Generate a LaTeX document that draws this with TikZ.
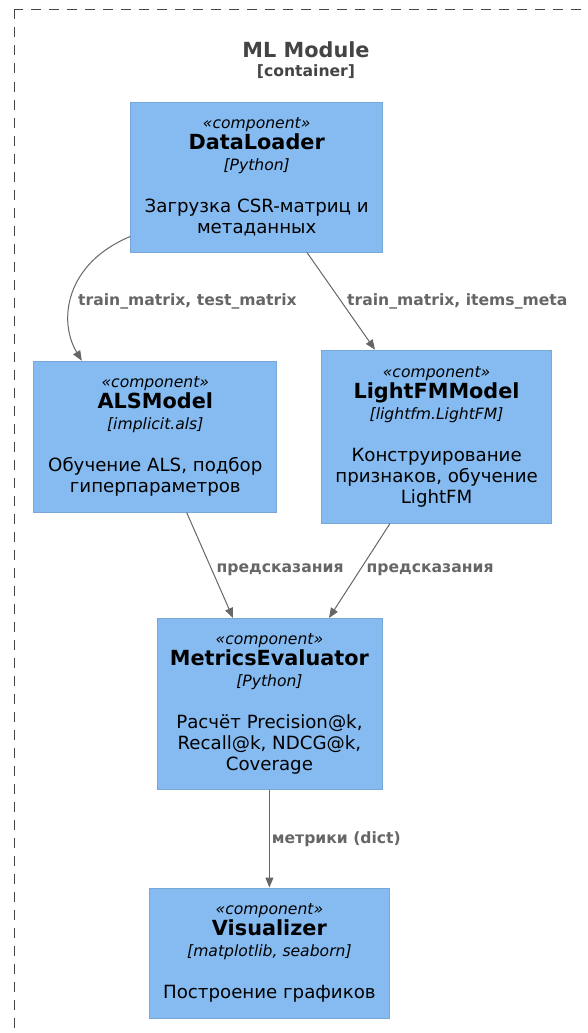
\documentclass[tikz,border=0pt]{standalone}
\usepackage{fontspec}
\setmainfont{DejaVu Sans}
\usetikzlibrary{positioning,arrows.meta}
\definecolor{compfill}{HTML}{85BBF0}
\definecolor{compline}{HTML}{78A8D8}
\definecolor{flowgrey}{HTML}{666666}
\definecolor{boundgrey}{HTML}{444444}
\newcommand{\compbody}[3]{{\itshape\fontsize{15.6}{21}\selectfont «component»}\\{\bfseries\fontsize{20.8}{21}\selectfont #1}\\{\itshape\fontsize{15.6}{21}\selectfont [#2]}\\[21pt]#3}
\tikzset{
    comp/.style={rectangle,fill=compfill,draw=compline,line width=0.8pt,align=center,text=black,font=\fontsize{18.2}{21}\selectfont},
    flow/.style={draw=flowgrey,line width=1pt,-{Triangle[length=10pt,width=8pt]}},
    lbl/.style={text=flowgrey,font=\bfseries\fontsize{15.6}{19}\selectfont,inner sep=0pt,anchor=west},
    boundary/.style={draw=boundgrey,line width=1pt,dash pattern=on 10pt off 8pt},
}

\begin{document}
\begin{tikzpicture}[x=1pt,y=-1pt]
\useasboundingbox (0,0) rectangle (587,1033);
\clip (0,0) rectangle (587,1033);
\draw[boundary] (14,9.5) rectangle (640,1080);
\node[text=boundgrey,font=\bfseries\fontsize{20.8}{24}\selectfont] (mltitle) at (306,50) {ML Module};
\node[text=boundgrey,font=\bfseries\fontsize{15.6}{19}\selectfont] (mlsub) at (306,72) {[container]};
\node[comp,minimum width=252pt,minimum height=150pt,anchor=north](dataloader) at (256.7,101.7) {\compbody{DataLoader}{Python}{Загрузка CSR-матриц и\\метаданных}};
\node[comp,minimum width=243pt,minimum height=151pt,anchor=north](als) at (155.3,360.8) {\compbody{ALSModel}{implicit.als}{Обучение ALS, подбор\\гиперпараметров}};
\node[comp,minimum width=230pt,minimum height=173pt,anchor=north](lightfm) at (436.6,349.7) {\compbody{LightFMModel}{lightfm.LightFM}{Конструирование\\признаков, обучение\\LightFM}};
\node[comp,minimum width=225pt,minimum height=171pt,anchor=north](metrics) at (269.4,618) {\compbody{MetricsEvaluator}{Python}{Расчёт Precision@k,\\Recall@k, NDCG@k,\\Coverage}};
\node[comp,minimum width=240pt,minimum height=130pt](visualizer) [below=97.7pt of metrics] {\compbody{Visualizer}{matplotlib, seaborn}{Построение графиков}};
\draw[flow] ([yshift=16pt]dataloader.south west) .. controls +(-65,27) and +(-24,-40) .. ([xshift=48.4pt]als.north west);
\draw[flow] ([xshift=50.3pt]dataloader.south) -- ([xshift=-61.6pt]lightfm.north);
\draw[flow] ([xshift=31.4pt]als.south) -- ([xshift=-36.4pt]metrics.north);
\draw[flow] ([xshift=-46.6pt]lightfm.south) -- ([xshift=59.6pt]metrics.north);
\draw[flow] (metrics.south) -- (visualizer.north);
\node[lbl] (lbltrain) at (78,301) {train\_matrix, test\_matrix};
\node[lbl] (lblmeta) at (347,301) {train\_matrix, items\_meta};
\node[lbl] (lblpredals) at (216.5,570) {предсказания};
\node[lbl] (lblpredfm) at (366.5,570) {предсказания};
\node[lbl] (lblmetrics) at (271.7,839.3) {метрики (dict)};
\end{tikzpicture}
\end{document}
